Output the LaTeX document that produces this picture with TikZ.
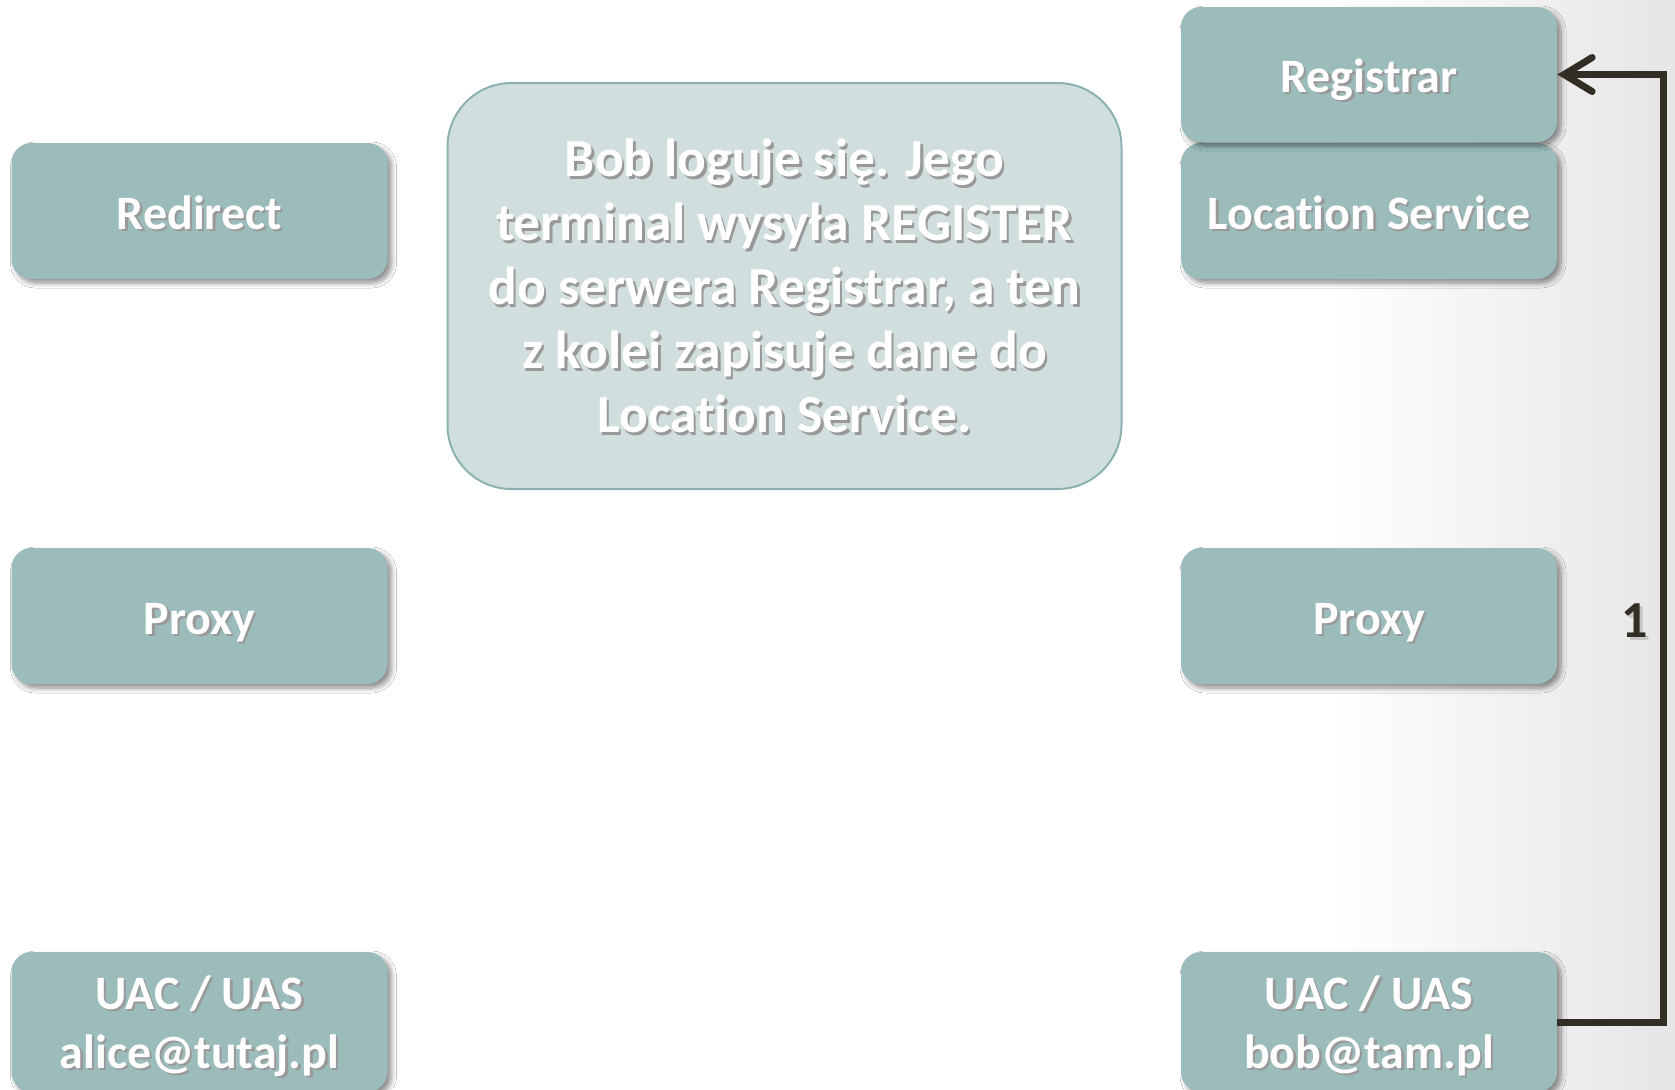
\documentclass[tikz,border=0pt]{standalone}
\usepackage{fontspec}
\setmainfont{Carlito}[Ligatures={NoCommon,NoDiscretionary}]
\usetikzlibrary{arrows.meta,shadows.blur}

\definecolor{boxfill}{RGB}{155,188,187}
\definecolor{notefill}{RGB}{208,223,222}
\definecolor{noteedge}{RGB}{140,178,176}
\definecolor{linkc}{RGB}{51,46,37}

% white text with a soft grey drop shadow
\newcommand\shd[1]{\makebox[0pt][l]{\hspace*{1.2pt}\raisebox{-1.2pt}{\textcolor{black!40}{#1}}}#1}
\newcommand\shdd[1]{\makebox[0pt][l]{\hspace*{1.2pt}\raisebox{-1.2pt}{\textcolor{black!22}{#1}}}#1}

\tikzset{
  box/.style={rectangle, rounded corners=10pt, fill=boxfill, draw=none,
    minimum width=188pt, minimum height=68pt, inner sep=2pt,
    text=white, align=center, text height=18pt, text depth=0pt,
    font=\bfseries\fontsize{24pt}{29.5pt}\selectfont,
    blur shadow={shadow xshift=2pt, shadow yshift=-2pt, shadow opacity=45,
      shadow blur steps=6, shadow blur radius=2.5pt}},
  twoline/.style={text height=, text depth=0pt},
  note/.style={rectangle, rounded corners=32pt, fill=notefill, draw=noteedge,
    line width=1pt, minimum width=337pt, minimum height=203pt,
    text=white, align=center, text depth=-2pt,
    font=\bfseries\fontsize{26.8pt}{32pt}\selectfont},
  conn/.style={draw=linkc, line width=3.5pt, line join=miter,
    -{Straight Barb[length=14pt,width=17pt,line cap=round]}},
  lbl/.style={text=linkc, font=\bfseries\fontsize{26pt}{30pt}\selectfont}
}

\begin{document}
\begin{tikzpicture}[x=0.5pt,y=-0.5pt]
  \useasboundingbox (0,0) rectangle (1675,1089);
  \clip (0,0) rectangle (1675,1089);
  % backdrop: white, greying slightly towards the right edge
  \fill[white] (0,0) rectangle (1675,1089);
  \shade[left color=white, right color=black!10] (1330,0) rectangle (1675,1089);

  % left column
  \node[box] (redirect) at (199.5,211)  {\shd{Redirect}};
  \node[box] (proxyA)   at (199.5,616)  {\shd{Proxy}};
  \node[box, twoline, minimum height=70pt] (uacA) at (199.5,1022)
    {\shd{UAC / UAS}\\\shd{alice@tutaj.pl}};

  % right column
  \node[box] (location)  at (1369,211)   {\shd{Location Service}};
  \node[box, minimum height=67.5pt] (registrar) at (1369,74.5) {\shd{Registrar}};
  \node[box] (proxyB)    at (1369,616)   {\shd{Proxy}};
  \node[box, twoline, minimum height=70pt] (uacB) at (1369,1022)
    {\shd{UAC / UAS}\\\shd{bob@tam.pl}};

  % explanatory note
  \node[note] (note) at (784.5,286)
    {\shd{Bob loguje się. Jego}\\
     \shd{terminal wysyła REGISTER}\\
     \shd{do serwera Registrar, a ten}\\
     \shd{z kolei zapisuje dane do}\\
     \shd{Location Service.}};

  % REGISTER message
  \draw[conn] (uacB.east) -- ++(106,0) |- (registrar.east);
  \node[lbl] (step1) at (1635,622) {\shdd{1}};
\end{tikzpicture}
\end{document}
